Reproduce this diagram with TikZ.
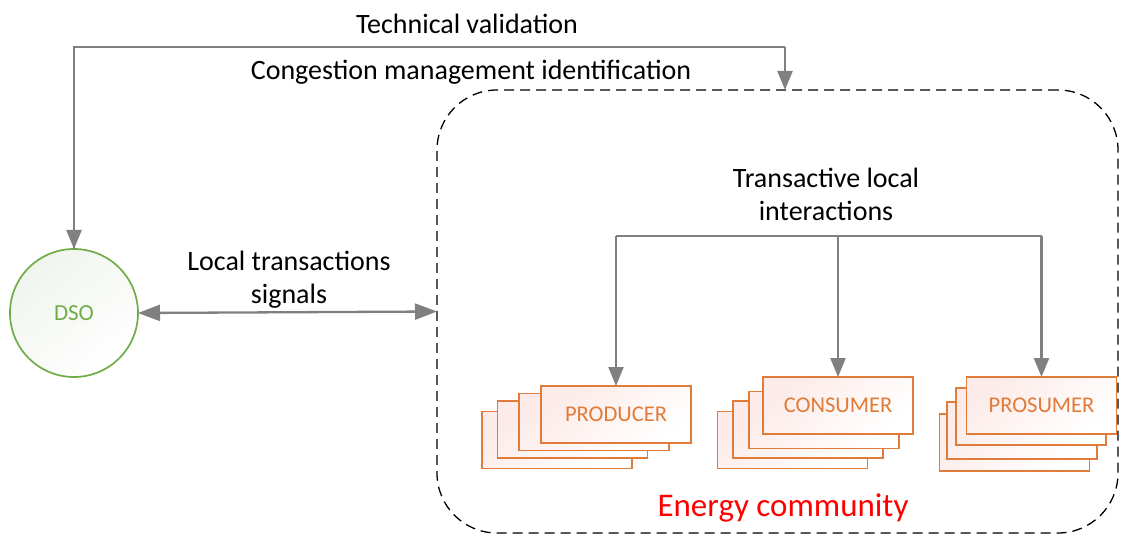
\documentclass[tikz,border=0pt]{standalone}
\usepackage{fontspec}
\setmainfont{Carlito}
\usetikzlibrary{arrows.meta,calc}
\definecolor{flowgrey}{HTML}{808080}
\definecolor{dsogreen}{HTML}{70AD47}
\definecolor{dsofill}{HTML}{F0F4EE}
\definecolor{roleorange}{HTML}{E07B39}
\definecolor{rolefill}{HTML}{FCEBE8}
\definecolor{ecred}{HTML}{FF0000}
\tikzset{
  flow/.style={draw=flowgrey, line width=2.3pt, -{Triangle[length=19pt,width=15pt]}},
  biflow/.style={draw=flowgrey, line width=2.3pt, {Triangle[length=22pt,width=16pt]}-{Triangle[length=22pt,width=16pt]}},
  branch/.style={draw=flowgrey, line width=2.3pt},
  card/.style={draw=roleorange, line width=1.7pt, top color=rolefill, bottom color=white,
    shading angle=40, minimum width=150pt, minimum height=57pt, inner sep=0pt, outer sep=0pt,
    text=roleorange, font=\fontsize{22.5}{26}\selectfont},
  txt/.style={font=\fontsize{28}{33}\selectfont, align=center, inner sep=0pt}
}
\begin{document}
\begin{tikzpicture}[x=1pt,y=-1pt]
\useasboundingbox (0,0) rectangle (1124,537);
\fill[white] (0,0) rectangle (1124,537);

% energy community boundary
\node[draw=black, dashed, dash pattern=on 10pt off 6pt, line width=1.3pt, rounded corners=60pt,
      minimum width=681pt, minimum height=443pt, inner sep=0pt, outer sep=0pt] (ec) at (777.5,311.5) {};
\node[font=\fontsize{33}{38}\selectfont, text=ecred, inner sep=0pt] (ectitle) at (783,508) {Energy community};

% DSO
\node[circle, draw=dsogreen, line width=1.7pt, top color=dsofill, bottom color=white, shading angle=40,
      minimum size=128pt, inner sep=0pt, outer sep=0pt, text=dsogreen,
      font=\fontsize{23}{27}\selectfont] (dso) at (74,313) {DSO};

% producer stack
\node[card] (p4) at (557,440) {};
\node[card] (p3) at (572.5,429.5) {};
\node[card] (p2) at (594,422) {};
\node[card] (p1) at (616,414.5) {PRODUCER};
% consumer stack
\node[card] (c4) at (792.5,440) {};
\node[card] (c3) at (808,429.5) {};
\node[card] (c2) at (824,420) {};
\node[card] (c1) at (838,405.5) {CONSUMER};
% prosumer stack
\node[card] (s4) at (1014.5,442.5) {};
\node[card] (s3) at (1022,430.5) {};
\node[card] (s2) at (1031,416.5) {};
\node[card] (s1) at (1041.5,405.5) {PROSUMER};

% DSO feedback loop
\coordinate (loopL) at (74,47);
\coordinate (loopR) at (785,47);
\coordinate (ecTop) at (785,90);
\draw[branch] (dso.north) -- (loopL) -- (loopR);
\draw[flow] (loopR) -- (ecTop);
\draw[flow] (loopL) -- (dso.north);
\node[txt] (tv) at (467,24) {Technical validation};
\node[txt] (cmi) at (471,72) {Congestion management identification};

% local transaction signals
\draw[biflow] (dso.east) -- (ec.west);
\node[txt] (lts) at (289,280) {Local transactions\\signals};

% transactive interactions
\coordinate (bL) at (616,236);
\coordinate (bM) at (838,236);
\coordinate (bR) at (1041.5,236);
\draw[branch] (bL) -- (bR);
\draw[flow] (bL) -- (p1.north);
\draw[flow] (bM) -- (c1.north);
\draw[flow] (bR) -- (s1.north);
\node[txt] (tli) at (826,194) {Transactive local\\interactions};
\end{tikzpicture}
\end{document}
